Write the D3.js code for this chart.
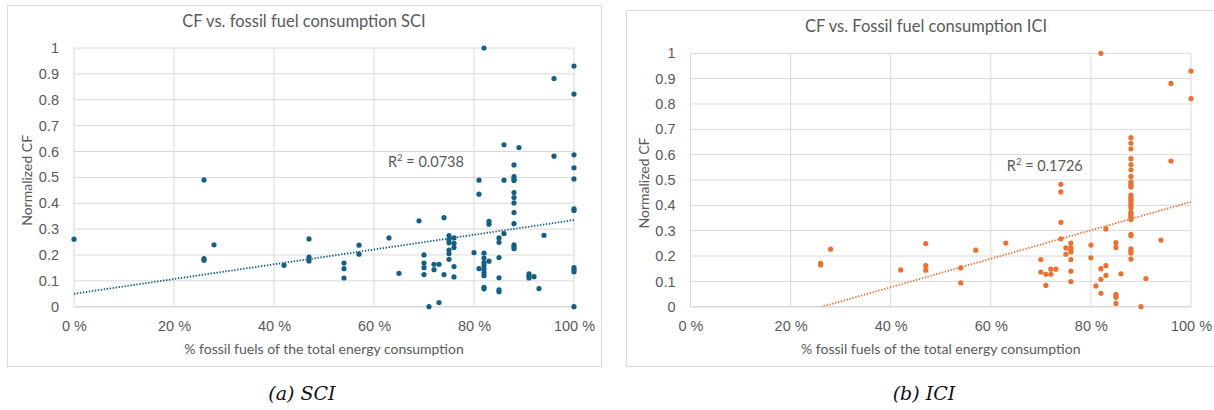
<!DOCTYPE html>
<html>
<head>
<meta charset="utf-8">
<script src="https://cdn.jsdelivr.net/npm/d3@7"></script>
<style>
  body { margin: 0; background: #fff; }
  svg { display: block; font-family: Lato, "Open Sans", sans-serif; }
  .tick text { fill: #595959; font-size: 14.5px; }
</style>
</head>
<body>
<svg id="chart" width="1214" height="410"></svg>
<script>
// % fossil fuels / normalized CF
const sciX = [0, 26, 26, 26, 28, 42, 47, 47, 47, 54, 54, 54, 57, 57, 63, 65, 69,
  70, 70, 70, 70, 71, 72, 72, 73, 73, 74, 74,
  75, 75, 75, 75, 75, 75, 76, 76, 76, 76, 76, 80, 81, 81, 81,
  82, 82, 82, 82, 82, 82, 82, 82, 82, 83, 83, 83,
  85, 85, 85, 85, 85, 85, 86, 86, 86,
  88, 88, 88, 88, 88, 88, 88, 88, 88, 88, 88, 88,
  89, 91, 91, 91, 92, 93, 94, 96, 96,
  100, 100, 100, 100, 100, 100, 100, 100, 100, 100, 100, 82];
const sciY = [0.261, 0.49, 0.186, 0.18, 0.239, 0.16, 0.262, 0.192, 0.177, 0.169, 0.147, 0.111, 0.238, 0.203, 0.266, 0.129, 0.332,
  0.2, 0.169, 0.151, 0.124, 0, 0.164, 0.143, 0.164, 0.016, 0.344, 0.124,
  0.275, 0.258, 0.247, 0.219, 0.205, 0.183, 0.266, 0.245, 0.229, 0.155, 0.115, 0.209, 0.489, 0.435, 0.147,
  1.0, 0.207, 0.188, 0.17, 0.159, 0.146, 0.132, 0.12, 0.075, 0.33, 0.319, 0.176,
  0.266, 0.249, 0.19, 0.112, 0.065, 0.058, 0.626, 0.489, 0.283,
  0.548, 0.503, 0.494, 0.488, 0.441, 0.422, 0.401, 0.364, 0.321, 0.239, 0.232, 0.224,
  0.615, 0.127, 0.119, 0.111, 0.116, 0.07, 0.276, 0.882, 0.582,
  0.93, 0.822, 0.587, 0.537, 0.494, 0.378, 0.372, 0.151, 0.143, 0.135, 0, 0.069];

const iciX = [26, 26, 28, 42, 47, 47, 47, 54, 54, 57, 63, 70, 70, 71, 71, 72, 72, 73,
  74, 74, 74, 74, 75, 75, 76, 76, 76, 76, 76, 76, 76, 80, 80, 81,
  82, 82, 82, 82, 83, 83, 83, 85, 85, 85, 85, 85, 85, 86,
  88, 88, 88, 88, 88, 88, 88, 88, 88, 88, 88, 88, 88, 88, 88, 88, 88, 88, 88, 88, 88, 88, 88, 88, 88, 88, 88, 88, 88,
  90, 91, 94, 96, 96, 100, 100];
const iciY = [0.171, 0.165, 0.227, 0.145, 0.249, 0.162, 0.144, 0.153, 0.094, 0.223, 0.251, 0.186, 0.137, 0.128, 0.084, 0.148, 0.128, 0.148,
  0.483, 0.453, 0.333, 0.268, 0.232, 0.207, 0.251, 0.233, 0.224, 0.216, 0.186, 0.14, 0.099, 0.243, 0.193, 0.082,
  1.0, 0.15, 0.108, 0.053, 0.307, 0.162, 0.124, 0.253, 0.234, 0.049, 0.042, 0.037, 0.013, 0.13,
  0.667, 0.645, 0.623, 0.584, 0.561, 0.54, 0.514, 0.493, 0.485, 0.478, 0.472, 0.44, 0.431, 0.423, 0.415, 0.407, 0.398, 0.39, 0.373, 0.366, 0.359, 0.353, 0.344, 0.286, 0.28, 0.228, 0.22, 0.211, 0.188,
  0, 0.111, 0.263, 0.881, 0.575, 0.93, 0.821];

// linear trendlines as shown (y = a + b*x)
const sciTrend = [0.05, 0.00285];
const iciTrend = [-0.1478, 0.005617];
const sciR2 = "0.0738";
const iciR2 = "0.1726";

const xTicks = [0, 20, 40, 60, 80, 100];
const yTicks = [0, 0.1, 0.2, 0.3, 0.4, 0.5, 0.6, 0.7, 0.8, 0.9, 1];

const titles = ["CF vs. fossil fuel consumption SCI", "CF vs. Fossil fuel consumption ICI"];
const captions = ["(a) SCI", "(b) ICI"];
const xTitle = "% fossil fuels of the total energy consumption";
const yTitle = "Normalized CF";

const svg = d3.select("#chart");
const grid = "#d9d9d9";
const textCol = "#595959";

function panel(o) {
  const g = svg.append("g");
  g.append("rect")
    .attr("x", o.box[0] + 0.5).attr("y", o.box[1] + 0.5)
    .attr("width", o.box[2]).attr("height", o.box[3])
    .attr("fill", "#fff").attr("stroke", grid);

  const x = d3.scaleLinear().domain([0, 100]).range([o.left, o.right]);
  const y = d3.scaleLinear().domain([0, 1]).range([o.bottom, o.top]);

  // gridlines
  g.append("g").selectAll("line").data(xTicks).join("line")
    .attr("x1", d => x(d)).attr("x2", d => x(d))
    .attr("y1", o.top).attr("y2", o.bottom)
    .attr("stroke", grid).attr("stroke-width", 1);
  g.append("g").selectAll("line").data(yTicks).join("line")
    .attr("x1", o.left).attr("x2", o.right)
    .attr("y1", d => y(d)).attr("y2", d => y(d))
    .attr("stroke", grid).attr("stroke-width", d => d === 0 ? 1.5 : 1);

  // axes (labels only)
  const ax = g.append("g").attr("transform", `translate(0,${o.bottom})`)
    .call(d3.axisBottom(x).tickValues(xTicks).tickSize(0).tickPadding(14).tickFormat(d => d + " %"));
  const ay = g.append("g").attr("transform", `translate(${o.left},0)`)
    .call(d3.axisLeft(y).tickValues(yTicks).tickSize(0).tickPadding(15).tickFormat(d3.format("")));
  [ax, ay].forEach(a => { a.select(".domain").remove(); a.selectAll("text").attr("font-family", null); });

  // trendline, clipped to plot area
  const clipId = "clip" + o.id;
  g.append("clipPath").attr("id", clipId).append("rect")
    .attr("x", o.left).attr("y", o.top).attr("width", o.right - o.left).attr("height", o.bottom - o.top);
  const xr = d3.extent(o.xs);
  g.append("line")
    .attr("clip-path", `url(#${clipId})`)
    .attr("x1", x(xr[0])).attr("y1", y(o.trend[0] + o.trend[1] * xr[0]))
    .attr("x2", x(xr[1])).attr("y2", y(o.trend[0] + o.trend[1] * xr[1]))
    .attr("stroke", o.color).attr("stroke-width", 1.8)
    .attr("stroke-dasharray", "1.4 1.6");

  // points
  g.append("g").selectAll("circle").data(o.xs.map((d, i) => [d, o.ys[i]])).join("circle")
    .attr("cx", d => x(d[0])).attr("cy", d => y(d[1])).attr("r", 2.6)
    .attr("fill", o.color);

  // R² label
  const r = g.append("text").attr("x", x(o.r2At[0])).attr("y", y(o.r2At[1]))
    .attr("fill", textCol).attr("font-size", 14.5);
  r.append("tspan").text("R");
  r.append("tspan").attr("dy", -6).attr("font-size", 9.5).text("2");
  r.append("tspan").attr("dy", 6).text(" = " + o.r2);

  // titles
  g.append("text").attr("x", o.box[0] + o.box[2] / 2).attr("y", o.box[1] + 22)
    .attr("text-anchor", "middle").attr("fill", textCol).attr("font-size", 16.5).text(o.title);
  g.append("text").attr("x", (o.left + o.right) / 2).attr("y", o.bottom + 47)
    .attr("text-anchor", "middle").attr("fill", textCol).attr("font-size", 14).text(xTitle);
  g.append("text").attr("transform", `translate(${o.left - 42},${(o.top + o.bottom) / 2 + 3}) rotate(-90)`)
    .attr("text-anchor", "middle").attr("fill", textCol).attr("font-size", 14).text(yTitle);

  // caption below
  svg.append("text").attr("x", o.box[0] + o.box[2] / 2 - 2).attr("y", 400)
    .attr("text-anchor", "middle").attr("font-family", "'DejaVu Serif', 'Liberation Serif', serif")
    .attr("font-style", "italic").attr("font-size", 19).attr("fill", "#111").text(o.caption);
}

panel({ id: "a", box: [7, 5, 594, 361], left: 74, right: 574, top: 48, bottom: 306.7,
  xs: sciX, ys: sciY, trend: sciTrend, r2: sciR2, r2At: [62.8, 0.54], color: "#156082",
  title: titles[0], caption: captions[0] });
panel({ id: "b", box: [626, 10, 600, 356], left: 690.5, right: 1191, top: 53.3, bottom: 306.7,
  xs: iciX, ys: iciY, trend: iciTrend, r2: iciR2, r2At: [63.2, 0.535], color: "#E97132",
  title: titles[1], caption: captions[1] });
</script>
</body>
</html>
